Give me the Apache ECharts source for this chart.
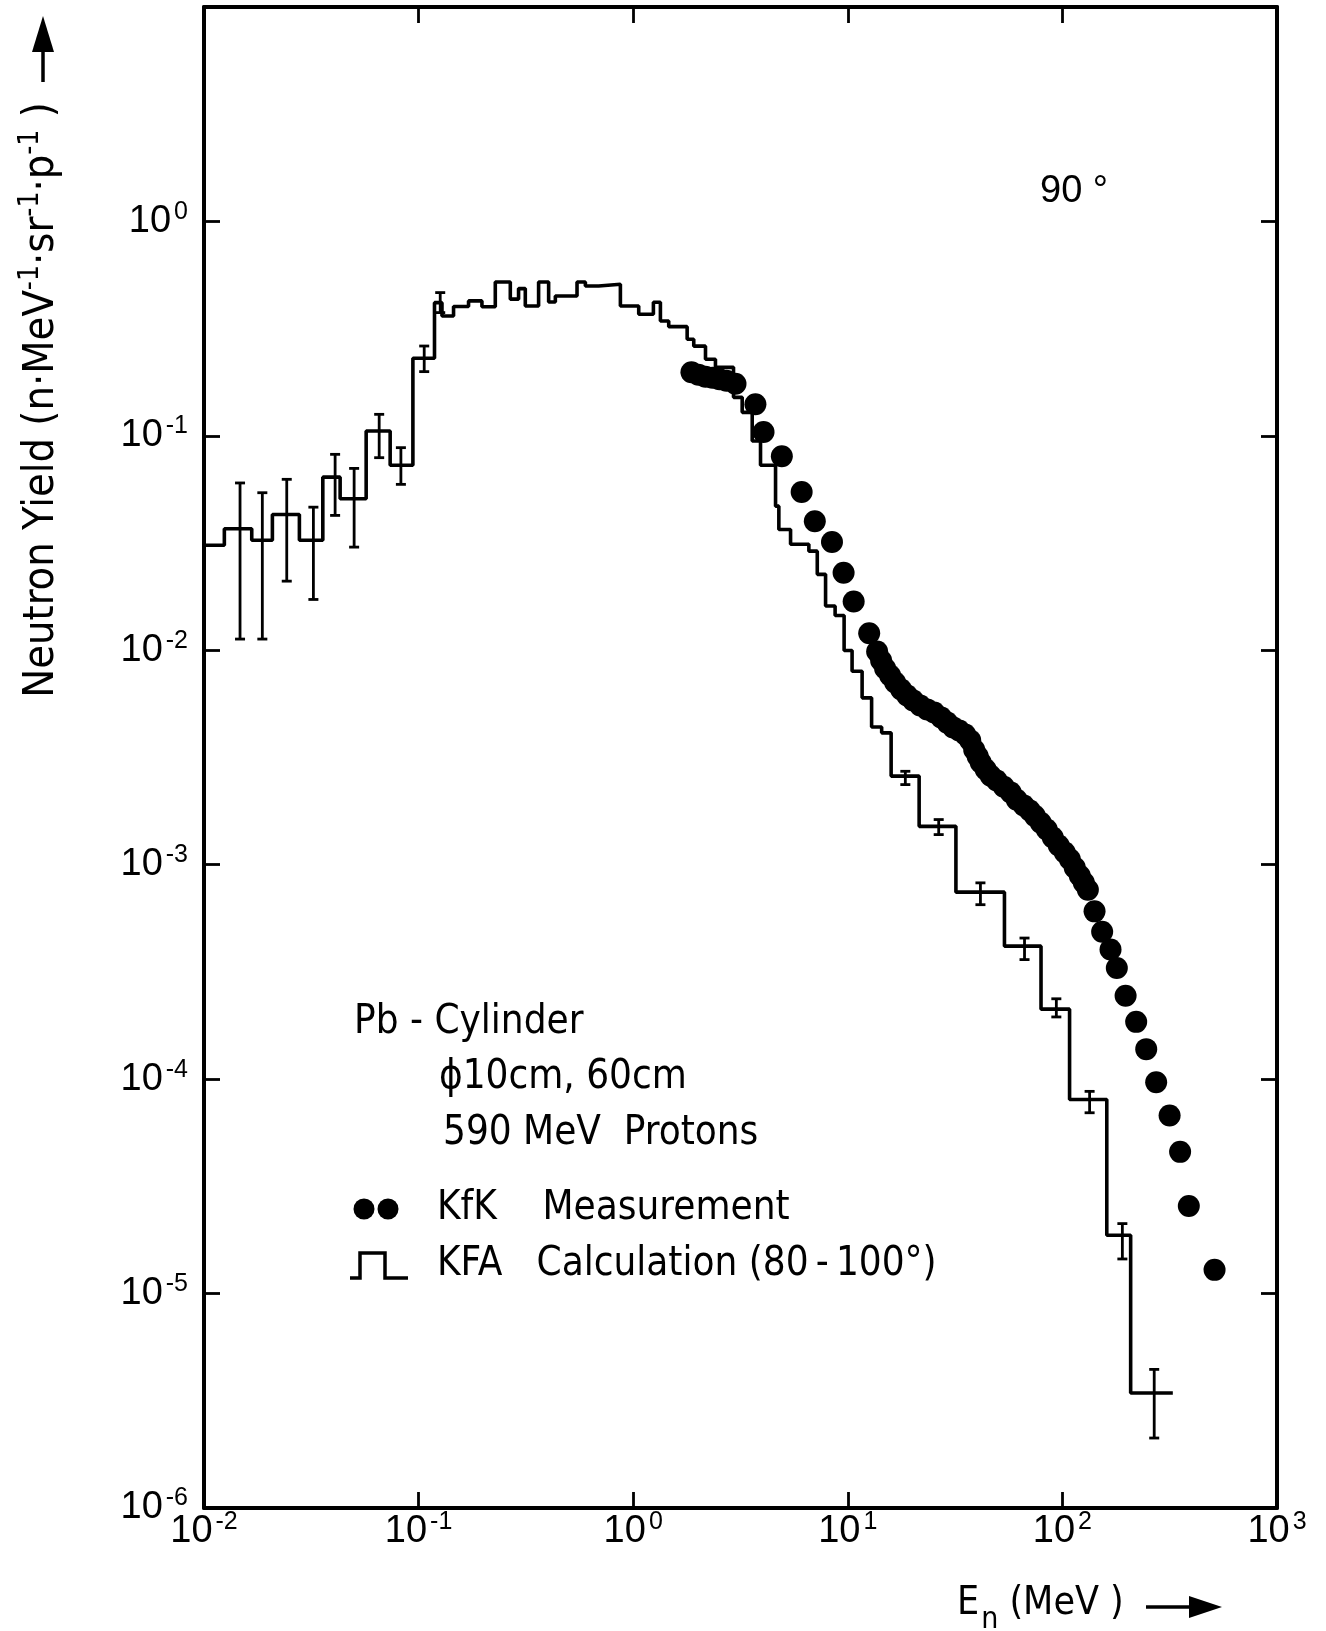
<!DOCTYPE html>
<html>
<head>
<meta charset="utf-8">
<title>Neutron yield, Pb cylinder, 90 deg</title>
<script src="https://cdn.jsdelivr.net/npm/echarts@6/dist/echarts.min.js"></script>
<style>
  html, body { margin: 0; padding: 0; background: #fff; }
  #chart { width: 1326px; height: 1631px; }
</style>
</head>
<body>
<div id="chart"></div>
<script>
// KFA calculation: histogram bin edges (MeV) and yield in each bin
var binEdges = [0.01, 0.01244, 0.01669, 0.02083, 0.02783, 0.03578, 0.04309, 0.05697, 0.0737, 0.09406,
  0.1186, 0.1285, 0.1455, 0.1709, 0.1973, 0.2277, 0.2675, 0.2923, 0.3142, 0.3624,
  0.4036, 0.4337, 0.5473, 0.5986, 0.6903, 0.8716, 1.061, 1.242, 1.339, 1.464,
  1.784, 1.915, 2.172, 2.417, 2.934, 3.22, 3.586, 3.92, 4.606, 4.772,
  5.411, 6.585, 7.207, 7.878, 8.727, 9.612, 10.47, 11.66, 12.91, 14.38,
  15.92, 21.5, 31.9, 53.7, 79.5, 108, 161, 208, 327];
var binYield = [0.0309, 0.0369, 0.0326, 0.043, 0.0326, 0.0642, 0.0509, 0.1053, 0.0729, 0.23,
  0.418, 0.362, 0.401, 0.426, 0.4, 0.522, 0.434, 0.486, 0.403, 0.522,
  0.421, 0.449, 0.522, 0.5, 0.509, 0.403, 0.369, 0.42, 0.343, 0.323,
  0.282, 0.262, 0.2275, 0.2087, 0.1512, 0.1287, 0.0946, 0.0729, 0.047, 0.0366,
  0.0312, 0.029, 0.0226, 0.0161, 0.01453, 0.00998, 0.00799, 0.006, 0.00439, 0.00412,
  0.00259, 0.00151, 0.000745, 0.000417, 0.000212, 0.0000804, 0.0000187, 0.00000344];

// error bars on the calculation
var errEnergy = [0.01472, 0.0187, 0.0243, 0.03234, 0.04083, 0.05007, 0.06551, 0.0827, 0.1062, 0.1261,
  18.54, 26.52, 41.5, 66.6, 93.7, 133.9, 190.3, 267.8];
var errLow = [0.01128, 0.01128, 0.02101, 0.01726, 0.04256, 0.03028, 0.07911, 0.0594, 0.1993, 0.3757,
  0.002364, 0.001382, 0.000651, 0.000361, 0.000195, 0.0000697, 0.0000145, 0.00000212];
var errHigh = [0.0603, 0.0543, 0.0627, 0.0465, 0.082, 0.0705, 0.126, 0.0881, 0.2624, 0.4657,
  0.002727, 0.001624, 0.000823, 0.000455, 0.000237, 0.0000877, 0.0000212, 0.00000443];

// KfK measurement
var measEnergy = [1.868, 2.014, 2.172, 2.341, 2.523, 2.721, 2.997, 3.711, 4.049, 4.927,
  6.095, 7.019, 8.439, 9.559, 10.65, 12.58, 13.7, 14.3, 14.93, 15.75,
  16.62, 17.73, 18.91, 20.17, 21.74, 23.44, 25.27, 27.24, 29.06, 30.98,
  33.04, 35.24, 37.19, 38.82, 40.31, 41.63, 43.92, 46.34, 49.43, 53.31,
  57.44, 61.26, 66.07, 70.47, 74.35, 79.29, 84.56, 90.2, 96.2, 102.6,
  108.3, 114.2, 120.5, 125.8, 131.4, 141.2, 153.2, 167.6, 179.3, 197,
  220.7, 245.8, 273.5, 315.9, 353.6, 388.2, 511.7];
var measYield = [0.1979, 0.1927, 0.1886, 0.1866, 0.1836, 0.1806, 0.1749, 0.1403, 0.1042, 0.0804,
  0.0547, 0.04, 0.032, 0.023, 0.0169, 0.012, 0.00987, 0.00896, 0.00823, 0.00763,
  0.00707, 0.00656, 0.00615, 0.00583, 0.00553, 0.00529, 0.00513, 0.00486, 0.0046, 0.00436,
  0.00423, 0.00405, 0.0038, 0.00344, 0.0032, 0.003, 0.00278, 0.0026, 0.00247, 0.00231,
  0.00217, 0.00201, 0.00189, 0.00179, 0.00169, 0.00157, 0.00146, 0.00134, 0.00123, 0.00114,
  0.00106, 0.000969, 0.000889, 0.000825, 0.000765, 0.000606, 0.000487, 0.000402, 0.00033, 0.000245,
  0.000185, 0.000138, 0.0000968, 0.0000677, 0.0000458, 0.0000256, 0.0000129];

// axis ranges (decades)
var xMinExp = -2, xMaxExp = 3;
var yMinExp = -6, yMaxExp = 1;

var labelFont = "'Liberation Sans', Arial, sans-serif";
var textFont = "'Liberation Sans Narrow', 'DejaVu Sans Condensed', 'Liberation Sans', sans-serif";

// step line points
var histData = [];
for (var i = 0; i < binYield.length; i++) {
  histData.push([binEdges[i], binYield[i]]);
}
histData.push([binEdges[binEdges.length - 1], binYield[binYield.length - 1]]);

var errData = errEnergy.map(function (e, i) { return [e, errLow[i], errHigh[i]]; });
var measData = measEnergy.map(function (e, i) { return [e, measYield[i]]; });

function powLabel(v, hideAbove) {
  var p = Math.round(Math.log(v) / Math.LN10);
  if (hideAbove !== undefined && p > hideAbove) return '';
  return '{b|10}{e|' + p + '}';
}

var tickRich = {
  b: { fontFamily: labelFont, fontSize: 38, color: '#000', lineHeight: 44 },
  e: { fontFamily: labelFont, fontSize: 25, color: '#000', verticalAlign: 'top', lineHeight: 44, padding: [0, 0, 0, 3] }
};

var frameLine = { show: true, lineStyle: { color: '#000', width: 4 } };
var frameTick = { show: true, inside: true, length: 16, lineStyle: { color: '#000', width: 2.8 } };

var myChart = echarts.init(document.getElementById('chart'));

var option = {
  animation: false,
  backgroundColor: '#fff',
  grid: { left: 204, top: 7, right: 49, bottom: 123 },
  xAxis: [
    {
      type: 'log', logBase: 10,
      min: Math.pow(10, xMinExp), max: Math.pow(10, xMaxExp), interval: 1,
      axisLine: frameLine, axisTick: frameTick,
      splitLine: { show: false }, minorTick: { show: false },
      axisLabel: {
        margin: 2, showMinLabel: true, showMaxLabel: true,
        formatter: function (v) { return powLabel(v); },
        rich: tickRich
      }
    },
    {
      type: 'log', logBase: 10, position: 'top',
      min: Math.pow(10, xMinExp), max: Math.pow(10, xMaxExp), interval: 1,
      axisLine: frameLine, axisTick: frameTick,
      splitLine: { show: false }, axisLabel: { show: false }
    }
  ],
  yAxis: [
    {
      type: 'log', logBase: 10,
      min: Math.pow(10, yMinExp), max: Math.pow(10, yMaxExp), interval: 1,
      axisLine: frameLine, axisTick: frameTick,
      splitLine: { show: false },
      axisLabel: {
        margin: 16, showMinLabel: true,
        formatter: function (v) { return powLabel(v, 0); },
        rich: tickRich
      }
    },
    {
      type: 'log', logBase: 10, position: 'right',
      min: Math.pow(10, yMinExp), max: Math.pow(10, yMaxExp), interval: 1,
      axisLine: frameLine, axisTick: frameTick,
      splitLine: { show: false }, axisLabel: { show: false }
    }
  ],
  series: [
    {
      name: 'KFA Calculation',
      type: 'line',
      step: 'end',
      data: histData,
      showSymbol: false,
      symbol: 'none',
      lineStyle: { color: '#000', width: 3.6 },
      z: 2
    },
    {
      name: 'KFA errors',
      type: 'custom',
      data: errData,
      encode: { x: 0, y: [1, 2] },
      renderItem: function (params, api) {
        var x = api.value(0);
        var lo = api.coord([x, api.value(1)]);
        var hi = api.coord([x, api.value(2)]);
        var w = 5;
        var st = { stroke: '#000', lineWidth: 2.8 };
        return {
          type: 'group',
          children: [
            { type: 'line', shape: { x1: lo[0], y1: lo[1], x2: hi[0], y2: hi[1] }, style: st },
            { type: 'line', shape: { x1: lo[0] - w, y1: lo[1], x2: lo[0] + w, y2: lo[1] }, style: st },
            { type: 'line', shape: { x1: hi[0] - w, y1: hi[1], x2: hi[0] + w, y2: hi[1] }, style: st }
          ]
        };
      },
      z: 3
    },
    {
      name: 'KfK Measurement',
      type: 'scatter',
      data: measData,
      symbol: 'circle',
      symbolSize: 22,
      itemStyle: { color: '#000', opacity: 1 },
      z: 4
    }
  ],
  graphic: [
    // y axis title with arrow
    {
      type: 'text', x: 42, y: 400, rotation: Math.PI / 2,
      style: {
        text: 'Neutron Yield (n·MeV{s|-1}·sr{s|-1}·p{s|-1} )',
        font: '43px ' + textFont, fill: '#000', align: 'center', verticalAlign: 'middle',
        rich: { s: { fontFamily: textFont, fontSize: 28, verticalAlign: 'top', lineHeight: 50 } }
      }
    },
    { type: 'line', shape: { x1: 43, y1: 82, x2: 43, y2: 45 }, style: { stroke: '#000', lineWidth: 3.5 } },
    { type: 'polygon', shape: { points: [[43, 16], [32, 52], [54, 52]] }, style: { fill: '#000' } },
    // x axis title with arrow
    {
      type: 'text', x: 957, y: 1604,
      style: {
        text: 'E{n|n} (MeV )',
        font: '39px ' + textFont, fill: '#000', align: 'left', verticalAlign: 'middle',
        rich: { n: { fontFamily: textFont, fontSize: 30, verticalAlign: 'bottom', lineHeight: 32, padding: [0, 0, -12, 2] } }
      }
    },
    { type: 'line', shape: { x1: 1146, y1: 1607, x2: 1195, y2: 1607 }, style: { stroke: '#000', lineWidth: 3.5 } },
    { type: 'polygon', shape: { points: [[1222, 1607], [1189, 1596], [1189, 1618]] }, style: { fill: '#000' } },
    // angle
    { type: 'text', x: 1040, y: 192, style: { text: '90 °', font: '38px ' + labelFont, fill: '#000', align: 'left', verticalAlign: 'middle' } },
    // annotation block
    { type: 'text', x: 354, y: 1023, style: { text: 'Pb - Cylinder', font: '40px ' + textFont, fill: '#000', verticalAlign: 'middle' } },
    { type: 'text', x: 439, y: 1078, style: { text: 'ϕ10cm, 60cm', font: '40px ' + textFont, fill: '#000', verticalAlign: 'middle' } },
    { type: 'text', x: 443, y: 1134, style: { text: '590 MeV  Protons', font: '40px ' + textFont, fill: '#000', verticalAlign: 'middle' } },
    { type: 'circle', shape: { cx: 364, cy: 1209, r: 10.5 }, style: { fill: '#000' } },
    { type: 'circle', shape: { cx: 388, cy: 1209, r: 10.5 }, style: { fill: '#000' } },
    { type: 'text', x: 437, y: 1209, style: { text: 'KfK    Measurement', font: '40px ' + textFont, fill: '#000', verticalAlign: 'middle' } },
    {
      type: 'polyline',
      shape: { points: [[350, 1278], [360, 1278], [360, 1253], [385, 1253], [385, 1278], [408, 1278]] },
      style: { stroke: '#000', lineWidth: 3.5, fill: null }
    },
    { type: 'text', x: 437, y: 1265, style: { text: 'KFA   Calculation (80\u2009-\u2009100°)', font: '40px ' + textFont, fill: '#000', verticalAlign: 'middle' } }
  ]
};

myChart.setOption(option);
</script>
</body>
</html>
